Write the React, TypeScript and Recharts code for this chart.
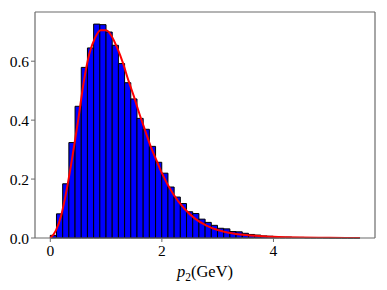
import React from "react"
import {
  ComposedChart,
  Line,
  ReferenceArea,
  XAxis,
  YAxis,
} from "recharts"

// histogram of p2, 50 bins starting at 0
const BIN_START = 0
const BIN_WIDTH = 0.111
const binHeights = [
  0.009, 0.082, 0.184, 0.324, 0.447, 0.579, 0.645, 0.726, 0.724, 0.699,
  0.654, 0.592, 0.527, 0.472, 0.406, 0.369, 0.311, 0.257, 0.22, 0.173,
  0.139, 0.117, 0.089, 0.083, 0.064, 0.053, 0.043, 0.033, 0.031, 0.022,
  0.021, 0.016, 0.012, 0.01, 0.007, 0.006, 0.004, 0.003, 0.003, 0.002,
  0.002, 0.001, 0.001, 0.001, 0.0007, 0.0005, 0.0004, 0.0003, 0.0002, 0.0002,
]

// fitted curve
const fitX = [
  0, 0.1, 0.2, 0.3, 0.4, 0.5, 0.6, 0.7, 0.8, 0.9, 1.0, 1.1, 1.2, 1.3, 1.4,
  1.5, 1.6, 1.7, 1.8, 1.9, 2.0, 2.2, 2.4, 2.6, 2.8, 3.0, 3.2, 3.5, 4.0, 4.5,
  5.0, 5.55,
]
const fitY = [
  0, 0.025, 0.08, 0.17, 0.28, 0.4, 0.53, 0.625, 0.678, 0.705, 0.705, 0.685,
  0.645, 0.595, 0.535, 0.48, 0.42, 0.365, 0.31, 0.265, 0.22, 0.15, 0.1,
  0.065, 0.042, 0.027, 0.018, 0.01, 0.004, 0.0015, 0.0006, 0.0002,
]

const xTicks = [0, 2, 4]
const yTicks = [0, 0.2, 0.4, 0.6]

const X_DOMAIN: [number, number] = [-0.274, 5.82]
const Y_DOMAIN: [number, number] = [0, 0.767]

const fitData = fitX.map((x, i) => ({ x, fit: fitY[i] }))

const FONT = "'Liberation Serif', 'DejaVu Serif', serif"
const tickStyle = { fontSize: 15.5, fill: "#000", fontFamily: FONT }
const SPINE = "#6b6b6b"

const XLabel = (props: any) => {
  const { viewBox } = props
  const cx = viewBox.x + viewBox.width / 2
  return (
    <text
      x={cx}
      y={viewBox.y + 39}
      textAnchor="middle"
      fontFamily={FONT}
      fontSize={16.5}
      fill="#000"
    >
      <tspan fontStyle="italic">p</tspan>
      <tspan fontSize={11.5} dy={4}>2</tspan>
      <tspan dy={-4}>(GeV)</tspan>
    </text>
  )
}

export default function App() {
  return (
    <div style={{ position: "absolute", left: 0, top: 0, background: "#fff" }}>
      <ComposedChart
        width={387}
        height={290}
        data={fitData}
        margin={{ top: 11, right: 11, left: 0, bottom: 10 }}
      >
        <XAxis
          dataKey="x"
          type="number"
          domain={X_DOMAIN}
          ticks={xTicks}
          allowDataOverflow
          tick={tickStyle}
          tickLine={{ stroke: SPINE }}
          tickSize={4}
          tickMargin={3}
          axisLine={{ stroke: SPINE, strokeWidth: 1.2 }}
          height={42}
          label={<XLabel />}
        />
        <XAxis
          xAxisId="top"
          orientation="top"
          dataKey="x"
          type="number"
          domain={X_DOMAIN}
          ticks={xTicks}
          allowDataOverflow
          tick={false}
          tickLine={false}
          axisLine={{ stroke: SPINE, strokeWidth: 1.2 }}
          height={1}
        />
        <YAxis
          type="number"
          domain={Y_DOMAIN}
          ticks={yTicks}
          allowDataOverflow
          tickFormatter={(v: number) => v.toFixed(1)}
          tick={tickStyle}
          tickLine={{ stroke: SPINE }}
          tickSize={4}
          tickMargin={2}
          axisLine={{ stroke: SPINE, strokeWidth: 1.2 }}
          width={35}
        />
        <YAxis
          yAxisId="right"
          orientation="right"
          type="number"
          domain={Y_DOMAIN}
          ticks={yTicks}
          allowDataOverflow
          tick={false}
          tickLine={false}
          axisLine={{ stroke: SPINE, strokeWidth: 1.2 }}
          width={1}
        />
        {binHeights.map((h, i) => (
          <ReferenceArea
            key={i}
            x1={BIN_START + i * BIN_WIDTH}
            x2={BIN_START + (i + 1) * BIN_WIDTH}
            y1={0}
            y2={h}
            fill="#0000ff"
            fillOpacity={1}
            stroke="#000"
            strokeWidth={1}
            strokeOpacity={1}
          />
        ))}
        <Line
          dataKey="fit"
          type="monotone"
          stroke="#ff0000"
          strokeWidth={2}
          dot={false}
          isAnimationActive={false}
        />
      </ComposedChart>
    </div>
  )
}
